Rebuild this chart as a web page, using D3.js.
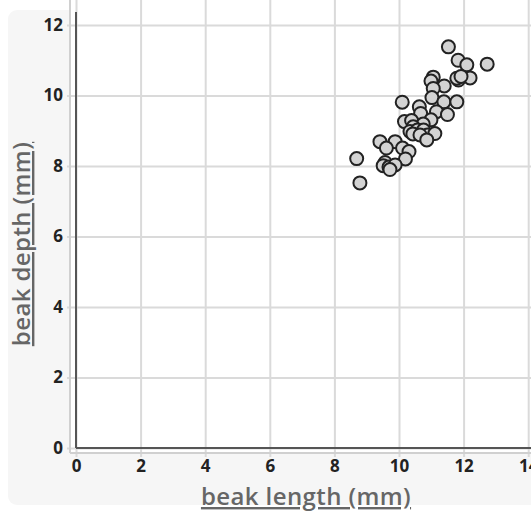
<!DOCTYPE html>
<html>
<head>
<meta charset="utf-8">
<script src="https://cdn.jsdelivr.net/npm/d3@7"></script>
<style>
  html, body { margin: 0; padding: 0; background: #ffffff; }
  svg { display: block; }
  text { font-family: "Open Sans", "Noto Sans", sans-serif; }
</style>
</head>
<body>
<svg id="chart" width="531" height="513"></svg>
<script>
// ---- data ----
const beakLength = [11.53, 11.83, 12.10, 12.73, 12.20, 11.84, 11.79, 11.92, 11.06, 10.99,
  11.40, 11.06, 11.02, 11.39, 11.79, 10.10, 10.63, 11.16, 11.50, 10.67,
  10.99, 10.17, 10.39, 10.75, 10.44, 10.34, 10.57, 10.76, 10.43, 10.88,
  11.11, 10.65, 10.86, 9.41, 9.88, 9.61, 10.11, 10.31, 8.69, 10.20,
  9.57, 9.51, 9.69, 9.88, 9.72, 8.79];
const beakDepth = [11.38, 11.00, 10.87, 10.89, 10.50, 10.44, 10.49, 10.54, 10.52, 10.41,
  10.27, 10.20, 9.94, 9.82, 9.82, 9.81, 9.68, 9.54, 9.46, 9.49,
  9.31, 9.26, 9.29, 9.19, 9.11, 8.98, 9.02, 9.02, 8.91, 8.88,
  8.92, 8.88, 8.74, 8.69, 8.69, 8.51, 8.51, 8.41, 8.21, 8.20,
  8.10, 8.01, 7.97, 8.03, 7.90, 7.52];
const xTicks = [0, 2, 4, 6, 8, 10, 12, 14];
const yTicks = [0, 2, 4, 6, 8, 10, 12];
const xLabel = "beak length (mm)";
const yLabel = "beak depth (mm)";

const svg = d3.select("#chart");
const W = 531, H = 513;

const x = d3.scaleLinear().domain([0, 14]).range([76, 528.2]);
const y = d3.scaleLinear().domain([0, 12]).range([448, 25]);

// panel background
svg.append("rect").attr("x", 8).attr("y", 10).attr("width", 560).attr("height", 495)
  .attr("rx", 9).attr("fill", "#f6f6f6");
// plot area
svg.append("rect").attr("x", 70).attr("y", 0).attr("width", W - 70).attr("height", 453)
  .attr("fill", "#ffffff");

// y axis with grid
const gy = svg.append("g").attr("transform", "translate(67,0)")
  .call(d3.axisLeft(y).tickValues(yTicks).tickSize(-(W - 67)).tickPadding(4).tickFormat(d3.format("d")));
gy.select(".domain").remove();
gy.selectAll(".tick line").attr("stroke", "#dadada").attr("stroke-width", 2);
gy.selectAll(".tick text").attr("fill", "#222").style("font-size", "17px").style("font-weight", 700);

// x axis with grid
const gx = svg.append("g").attr("transform", "translate(0,457)")
  .call(d3.axisBottom(x).tickValues(xTicks).tickSize(-457).tickPadding(3).tickFormat(d3.format("d")));
gx.select(".domain").remove();
gx.selectAll(".tick line").attr("stroke", "#dadada").attr("stroke-width", 2);
gx.selectAll(".tick text").attr("fill", "#222").style("font-size", "17px").style("font-weight", 700);

// axis domain lines (light)
svg.append("line").attr("x1", 70).attr("x2", 70).attr("y1", 0).attr("y2", 453)
  .attr("stroke", "#d0d0d0").attr("stroke-width", 2);
svg.append("line").attr("x1", 70).attr("x2", W).attr("y1", 453).attr("y2", 453)
  .attr("stroke", "#d0d0d0").attr("stroke-width", 2);

// zero lines (dark)
svg.append("line").attr("x1", x(0)).attr("x2", x(0)).attr("y1", 12).attr("y2", y(0))
  .attr("stroke", "#555").attr("stroke-width", 2);
svg.append("line").attr("x1", x(0)).attr("x2", W).attr("y1", y(0)).attr("y2", y(0))
  .attr("stroke", "#555").attr("stroke-width", 2);

// points
const pts = beakLength.map((d, i) => ({ bx: d, by: beakDepth[i] }));
svg.append("g").selectAll("circle").data(pts).join("circle")
  .attr("cx", d => x(d.bx)).attr("cy", d => y(d.by)).attr("r", 6.5)
  .attr("fill", "#d3d3d3").attr("stroke", "#222").attr("stroke-width", 2);

// axis labels
svg.append("text").attr("x", 306).attr("y", 505).attr("text-anchor", "middle")
  .attr("font-size", 24).attr("font-weight", 600).attr("fill", "#666").attr("letter-spacing", 0.4)
  .attr("text-decoration", "underline").text(xLabel);
svg.append("text").attr("transform", "translate(30,244) rotate(-90)").attr("text-anchor", "middle")
  .attr("font-size", 24).attr("font-weight", 600).attr("fill", "#666").attr("letter-spacing", 0.4)
  .attr("text-decoration", "underline").text(yLabel);
</script>
</body>
</html>
